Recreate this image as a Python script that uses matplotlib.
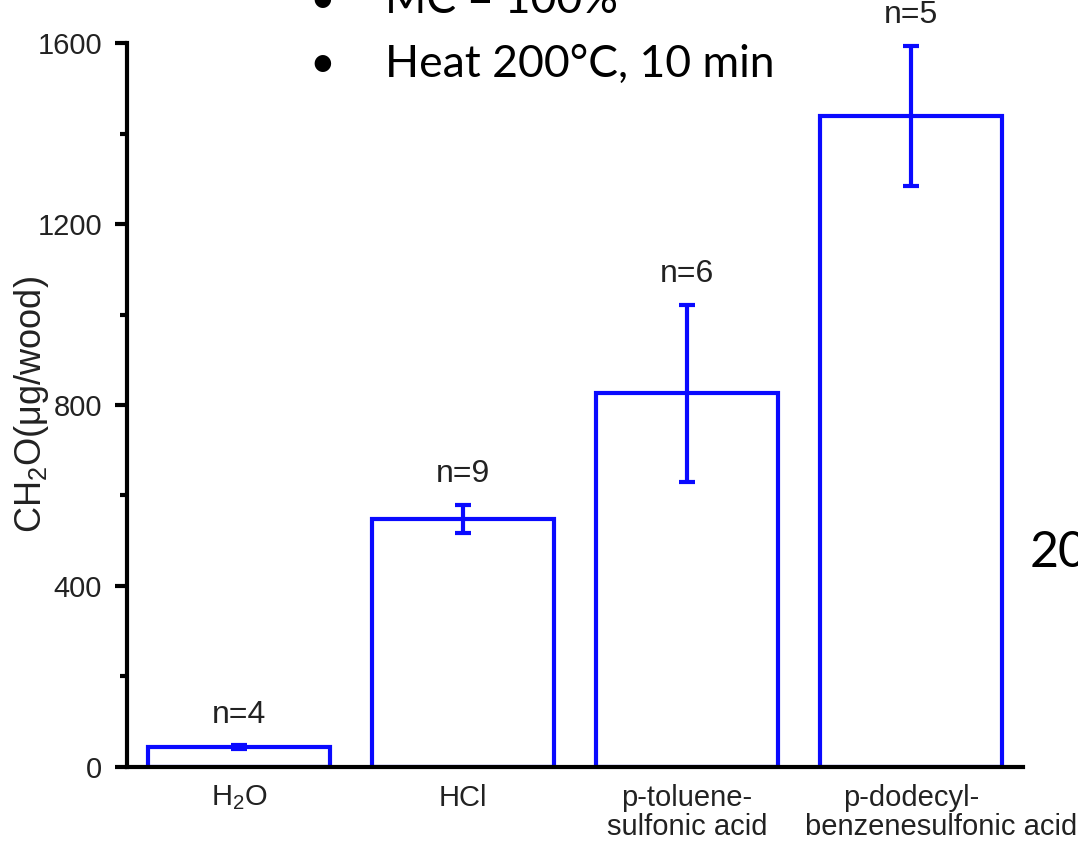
import matplotlib
matplotlib.use("Agg")
import matplotlib.pyplot as plt
from matplotlib.ticker import MultipleLocator

categories = ["H$_2$O", "HCl", "p-toluene-\nsulfonic acid", "p-dodecyl-\nbenzenesulfonic acid"]
means = [44, 549, 826, 1439]
errors = [5, 31, 196, 155]
counts = [4, 9, 6, 5]

BLUE = "#0a0aff"
TXT = "#222222"

plt.rcParams["font.family"] = ["Liberation Sans", "DejaVu Sans"]
plt.rcParams["mathtext.fontset"] = "custom"
plt.rcParams["mathtext.rm"] = "Liberation Sans"
plt.rcParams["mathtext.it"] = "Liberation Sans:italic"
plt.rcParams["mathtext.bf"] = "Liberation Sans:bold"

fig = plt.figure(figsize=(10.78, 8.52), dpi=100)
ax = fig.add_axes([0.1178, 0.0998, 0.8312, 0.8497])

x = list(range(len(categories)))
ax.bar(x, means, width=0.81, facecolor="white", edgecolor=BLUE, linewidth=3, zorder=2)
ax.errorbar(x, means, yerr=errors, fmt="none", ecolor=BLUE, elinewidth=3,
            capsize=6, capthick=3, zorder=3)

for xi, m, e, n in zip(x, means, errors, counts):
    ax.annotate(f"n={n}", (xi, m + e), xytext=(0, 11), textcoords="offset points",
                ha="center", va="bottom", fontsize=23, color=TXT,
                annotation_clip=False)

# category names: first line as tick label, second line as its own text
first_lines = [c.split("\n")[0] for c in categories]
ax.set_xlim(-0.5, 3.5)
ax.set_ylim(0, 1600)
ax.set_xticks(x)
ax.set_xticklabels(first_lines, fontsize=21, color=TXT)
ax.tick_params(axis="x", length=0, pad=12)
for xi, c in zip(x, categories):
    if "\n" not in c:
        continue
    second = c.split("\n")[1]
    # the long one is pushed right so it clears its neighbour
    dx = 22 if len(second) > 15 else 0
    ax.annotate(second, (xi, 0), xycoords=ax.get_xaxis_transform(),
                xytext=(dx, -33), textcoords="offset points",
                ha="center", va="top", fontsize=21, color=TXT,
                annotation_clip=False)

ax.yaxis.set_major_locator(MultipleLocator(400))
ax.yaxis.set_minor_locator(MultipleLocator(200))
ax.tick_params(axis="y", which="major", length=9, width=3, labelsize=21,
               labelcolor=TXT, pad=9)
ax.tick_params(axis="y", which="minor", length=5, width=3)

for side in ("top", "right"):
    ax.spines[side].set_visible(False)
for side in ("left", "bottom"):
    ax.spines[side].set_linewidth(3)
    ax.spines[side].set_zorder(4)

ax.set_ylabel("CH$_2$O(\u03bcg/wood)", fontsize=26, color=TXT, labelpad=-10)

# slide text around the chart
slide_font = ["Lato", "DejaVu Sans"]
fig.text(0.287, 1.0 - 13 / 852, "\u2022", fontsize=32, family=slide_font, va="baseline")
fig.text(0.357, 1.0 - 13 / 852, "MC = 100%", fontsize=32, family=slide_font, va="baseline")
fig.text(0.287, 1.0 - 77 / 852, "\u2022", fontsize=32, family=slide_font, va="baseline")
fig.text(0.357, 1.0 - 77 / 852, "Heat 200\u00b0C, 10 min", fontsize=32, family=slide_font,
         va="baseline")
fig.text(0.955, 1.0 - 567 / 852, "20", fontsize=36, family=slide_font, va="baseline")

fig.savefig("out.png", dpi=100)
